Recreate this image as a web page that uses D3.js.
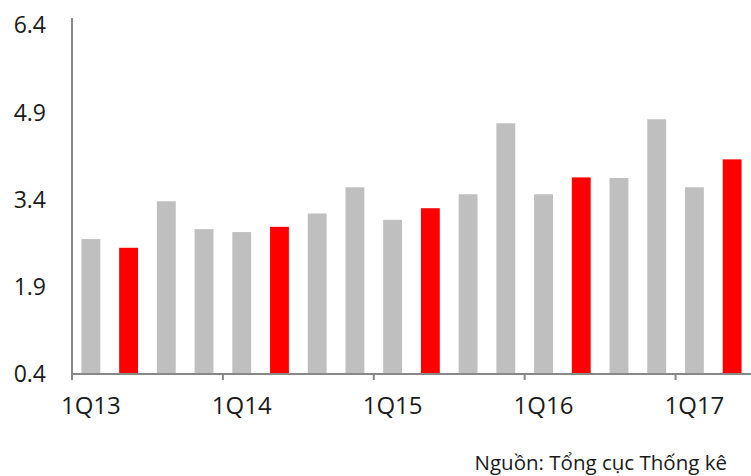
<!DOCTYPE html>
<html>
<head>
<meta charset="utf-8">
<script src="https://cdn.jsdelivr.net/npm/d3@7"></script>
<style>
  html, body { margin: 0; padding: 0; background: #fff; }
  svg { display: block; }
  text { font-family: "Open Sans", "DejaVu Sans", sans-serif; fill: #1a1a1a; }
</style>
</head>
<body>
<svg id="chart" width="751" height="476"></svg>
<script>
// Quarterly values, 1Q13 – 2Q17
const quarters = [
  "1Q13", "2Q13", "3Q13", "4Q13",
  "1Q14", "2Q14", "3Q14", "4Q14",
  "1Q15", "2Q15", "3Q15", "4Q15",
  "1Q16", "2Q16", "3Q16", "4Q16",
  "1Q17", "2Q17"
];
const values = [
  2.72, 2.57, 3.37, 2.89,
  2.84, 2.93, 3.16, 3.61,
  3.05, 3.25, 3.49, 4.71,
  3.49, 3.78, 3.77, 4.78,
  3.61, 4.09
];
// Second quarters are highlighted
const highlighted = ["2Q13", "2Q14", "2Q15", "2Q16", "2Q17"];
const yTicks = [0.4, 1.9, 3.4, 4.9, 6.4];
const xLabels = ["1Q13", "1Q14", "1Q15", "1Q16", "1Q17"];
const sourceNote = "Nguồn: Tổng cục Thống kê";

const svg = d3.select("#chart");
const left = 72, right = 751, bottom = 374;

const x = d3.scaleBand().domain(quarters).range([left, right]).paddingInner(0.5).paddingOuter(0.25);
const y = d3.scaleLinear().domain([0.4, 6.4]).range([bottom, 25]);

// Bars
svg.append("g")
  .selectAll("rect")
  .data(quarters)
  .join("rect")
  .attr("x", d => x(d))
  .attr("width", x.bandwidth())
  .attr("y", (d, i) => y(values[i]))
  .attr("height", (d, i) => y(0.4) - y(values[i]))
  .attr("fill", d => highlighted.includes(d) ? "#ff0000" : "#bfbfbf");

// Y axis: line plus tick labels
svg.append("line")
  .attr("x1", left).attr("x2", left)
  .attr("y1", 18).attr("y2", bottom)
  .attr("stroke", "#888").attr("stroke-width", 2);

svg.append("g")
  .selectAll("text")
  .data(yTicks)
  .join("text")
  .attr("x", 46)
  .attr("y", d => y(d))
  .attr("dy", "0.36em")
  .attr("text-anchor", "end")
  .attr("font-size", 23)
  .text(d => d.toFixed(1));

// X axis: baseline, year ticks at band starts, labels at band centres
svg.append("line")
  .attr("x1", left - 1).attr("x2", right)
  .attr("y1", bottom).attr("y2", bottom)
  .attr("stroke", "#888").attr("stroke-width", 2);

const step = x.step();
const bandStart = d => x(d) - (step - x.bandwidth()) / 2;

svg.append("g")
  .selectAll("line")
  .data(xLabels)
  .join("line")
  .attr("x1", d => bandStart(d)).attr("x2", d => bandStart(d))
  .attr("y1", bottom).attr("y2", bottom + 6)
  .attr("stroke", "#888").attr("stroke-width", 2);

svg.append("g")
  .selectAll("text")
  .data(xLabels)
  .join("text")
  .attr("x", d => x(d) + x.bandwidth() / 2)
  .attr("y", 414)
  .attr("text-anchor", "middle")
  .attr("font-size", 24)
  .text(d => d);

// Source note
svg.append("text")
  .attr("x", 727)
  .attr("y", 470)
  .attr("text-anchor", "end")
  .attr("font-size", 20.5)
  .text(sourceNote);
</script>
</body>
</html>
